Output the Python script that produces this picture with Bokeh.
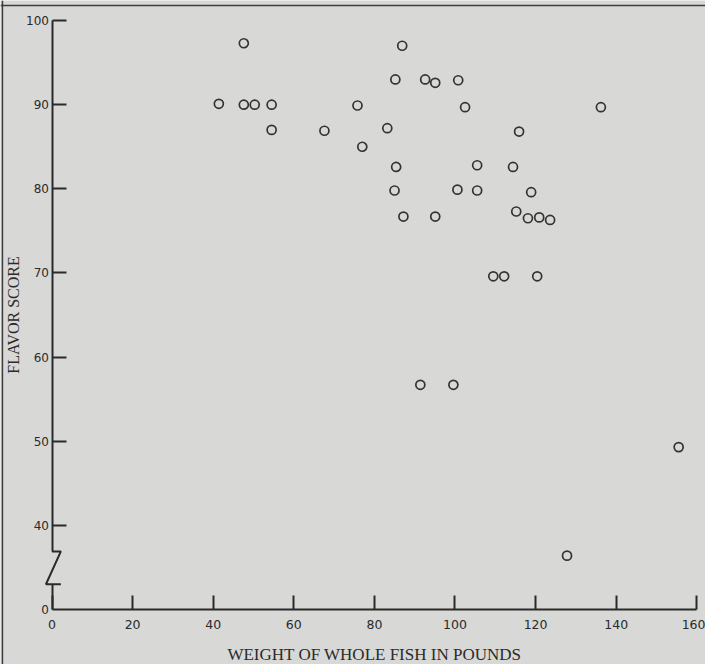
from bokeh.plotting import figure
from bokeh.models import Range1d, FixedTicker, LinearAxis, Span
from bokeh.embed import file_html
from bokeh.resources import INLINE

# Weight of whole fish (pounds) and flavor score
weight = [47.6, 41.4, 47.6, 50.3, 54.5, 54.5, 67.6, 75.8, 77.0,
          86.9, 85.2, 92.6, 95.1, 100.8, 102.5, 136.2, 83.2, 115.9,
          85.4, 105.5, 114.4, 85.0, 100.6, 105.5, 118.9,
          87.2, 95.1, 115.2, 118.1, 120.9, 123.6,
          109.5, 112.2, 120.4, 91.4, 99.6, 155.5, 127.8]
flavor = [97.3, 90.1, 90.0, 90.0, 90.0, 87.0, 86.9, 89.9, 85.0,
          97.0, 93.0, 93.0, 92.6, 92.9, 89.7, 89.7, 87.2, 86.8,
          82.6, 82.8, 82.6, 79.8, 79.9, 79.8, 79.6,
          76.7, 76.7, 77.3, 76.5, 76.6, 76.3,
          69.6, 69.6, 69.6, 56.7, 56.7, 49.3, 36.4]

x_ticks = [0, 20, 40, 60, 80, 100, 120, 140, 160]
y_ticks = [40, 50, 60, 70, 80, 90, 100]
y_label_ticks = [30, 40, 50, 60, 70, 80, 90, 100]
y_label_text = {30: "0"}      # broken axis: the bottom is labelled "0"

# axis-break zigzag (decoration)
break_x = [0, 2.2, -1.5, 2.2]
break_y = [36.9, 36.9, 33.0, 33.0]

INK = "#2a2a2a"
BG = "#d8d8d6"
TICK_FONT = "DejaVu Sans"
TITLE_FONT = "Liberation Serif"

p = figure(width=705, height=664, output_backend="svg", toolbar_location=None,
           x_range=Range1d(-12.78, 162.16), y_range=Range1d(23.46, 102.38),
           min_border_left=0, min_border_right=0, min_border_top=0,
           min_border_bottom=0)
p.background_fill_color = BG
p.border_fill_color = BG
p.outline_line_color = None
p.grid.visible = False

# printed page frame (left and top rules of the scanned figure box)
p.add_layout(Span(location=-12.3, dimension="height",
                  line_color="#3c3c3c", line_width=1.5))
p.add_layout(Span(location=101.79, dimension="width",
                  line_color="#3c3c3c", line_width=1.5))

# x axis at y = 30 (the "0" of the broken scale)
xa = p.xaxis[0]
xa.fixed_location = 30
xa.bounds = (0, 160)
xa.ticker = FixedTicker(ticks=x_ticks)
xa.axis_line_width = 2
xa.axis_line_color = INK
xa.major_tick_in = 14
xa.major_tick_out = 0
xa.major_tick_line_width = 2
xa.major_tick_line_color = INK
xa.minor_tick_line_color = None
xa.major_label_standoff = 11
xa.major_label_text_font = TICK_FONT
xa.major_label_text_font_size = "12.5px"
xa.major_label_text_color = INK
xa.axis_label = "WEIGHT OF WHOLE FISH IN POUNDS"
xa.axis_label_text_font = TITLE_FONT
xa.axis_label_text_font_style = "normal"
xa.axis_label_text_font_size = "17px"
xa.axis_label_text_color = INK
xa.axis_label_standoff = 12

# y axis at x = 0: labels and title
ya = p.yaxis[0]
ya.fixed_location = 0
ya.bounds = (30, 100)
ya.ticker = FixedTicker(ticks=y_label_ticks)
ya.major_label_overrides = y_label_text
ya.axis_line_color = None
ya.major_tick_line_color = None
ya.minor_tick_line_color = None
ya.major_tick_in = 0
ya.major_tick_out = 0
ya.major_label_standoff = 3
ya.major_label_text_font = TICK_FONT
ya.major_label_text_font_size = "12px"
ya.major_label_text_color = INK
ya.axis_label = "FLAVOR SCORE"
ya.axis_label_text_font = TITLE_FONT
ya.axis_label_text_font_style = "normal"
ya.axis_label_text_font_size = "16px"
ya.axis_label_text_color = INK
ya.axis_label_standoff = 2

# y axis line and ticks at x = 0, broken between 33 and 36.9
yt = LinearAxis(fixed_location=0, bounds=(36.9, 100),
                ticker=FixedTicker(ticks=y_ticks),
                major_label_overrides={t: "" for t in y_ticks})
yt.axis_line_width = 2
yt.axis_line_color = INK
yt.major_tick_in = 14
yt.major_tick_out = 0
yt.major_tick_line_width = 2
yt.major_tick_line_color = INK
yt.minor_tick_line_color = None
yt.major_label_text_font_size = "0px"
p.add_layout(yt, "left")

yb = LinearAxis(fixed_location=0, bounds=(30, 33.0),
                ticker=FixedTicker(ticks=[]))
yb.axis_line_width = 2
yb.axis_line_color = INK
yb.major_tick_line_color = None
yb.minor_tick_line_color = None
yb.major_label_text_font_size = "0px"
p.add_layout(yb, "left")

p.line(break_x, break_y, line_color=INK, line_width=2)

p.scatter(weight, flavor, marker="circle", size=9, fill_color=None,
          line_color="#333333", line_width=1.7)

open("out.html", "w").write(file_html(p, INLINE))
